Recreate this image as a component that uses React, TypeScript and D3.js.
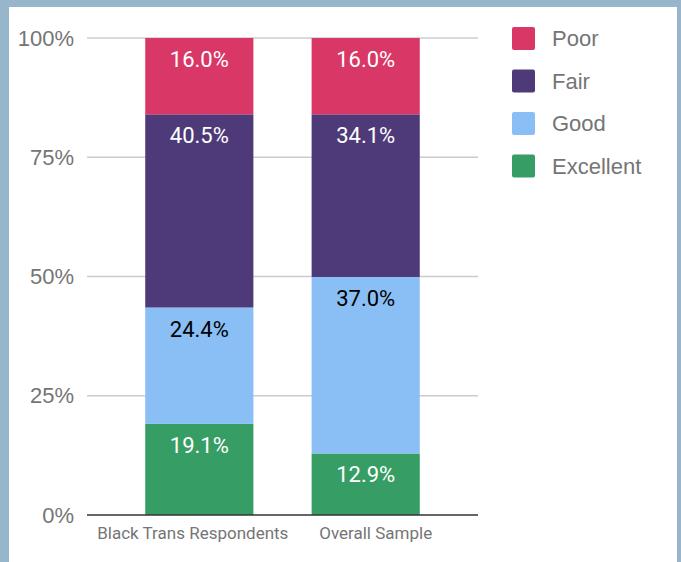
import React from "react";
import * as d3 from "d3";

const categories = ["Black Trans Respondents", "Overall Sample"];
const seriesNames = ["Excellent", "Good", "Fair", "Poor"];
const excellent = [19.1, 12.9];
const good = [24.4, 37.0];
const fair = [40.5, 34.1];
const poor = [16.0, 16.0];
const yTicks = [0, 25, 50, 75, 100];
const legendOrder = ["Poor", "Fair", "Good", "Excellent"];

const colors: Record<string, string> = {
  Poor: "#d93766",
  Fair: "#4e3a79",
  Good: "#8abff5",
  Excellent: "#369d64",
};
const labelColors: Record<string, string> = {
  Poor: "#ffffff",
  Fair: "#ffffff",
  Good: "#000000",
  Excellent: "#ffffff",
};

const W = 681;
const H = 562;

export default function App() {
  const rows = categories.map((c, i) => ({
    cat: c,
    Excellent: excellent[i],
    Good: good[i],
    Fair: fair[i],
    Poor: poor[i],
  }));
  const stack = d3.stack<any>().keys(seriesNames);
  const stacked = stack(rows);

  const x = d3.scaleBand().domain(categories).range([87, 478]).paddingInner(0.35).paddingOuter(0.35);
  const y = d3.scaleLinear().domain([0, 100]).range([515, 38]);
  const labelShift = [-6.5, 10];

  const tickFont = "'Liberation Sans', Arial, sans-serif";
  const robo = "Roboto, 'Noto Sans', sans-serif";

  return (
    <svg width={W} height={H} style={{ position: "absolute", left: 0, top: 0, display: "block" }}>
      <rect x={0} y={0} width={W} height={H} fill="#98b6cb" />
      <rect x={9} y={7} width={668} height={H - 7} fill="#ffffff" />
      {yTicks.map((t) => (
        <g key={t}>
          {t > 0 && <line x1={87} x2={478} y1={y(t)} y2={y(t)} stroke="#cccccc" strokeWidth={1.5} />}
          <text x={74} y={y(t)} dy="0.35em" textAnchor="end" fontFamily={tickFont} fontSize={22} fill="#757575">
            {t}%
          </text>
        </g>
      ))}
      {stacked.map((s) => (
        <g key={s.key}>
          {s.map((d, i) => {
            const cat = categories[i];
            const x0 = x(cat)!;
            const top = y(d[1]);
            const bot = y(d[0]);
            const v = d[1] - d[0];
            return (
              <g key={cat}>
                <rect x={x0} y={top} width={x.bandwidth()} height={bot - top} fill={colors[s.key]} />
                <text
                  x={x0 + x.bandwidth() / 2}
                  y={top + 29}
                  textAnchor="middle"
                  fontFamily={robo}
                  fontSize={22}
                  fill={labelColors[s.key]}
                >
                  {v.toFixed(1)}%
                </text>
              </g>
            );
          })}
        </g>
      ))}
      <line x1={87} x2={478} y1={y(0)} y2={y(0)} stroke="#333333" strokeWidth={1.5} />
      {categories.map((c, i) => (
        <text
          key={c}
          x={x(c)! + x.bandwidth() / 2 + labelShift[i]}
          y={539}
          textAnchor="middle"
          fontFamily={robo}
          fontSize={17}
          fill="#757575"
        >
          {c}
        </text>
      ))}
      {legendOrder.map((k, i) => (
        <g key={k} transform={`translate(512, ${27 + i * 42.5})`}>
          <rect x={0} y={0} width={23} height={23} rx={2} fill={colors[k]} />
          <text x={40} y={11.5} dy="0.35em" fontFamily={tickFont} fontSize={22} fill="#757575">
            {k}
          </text>
        </g>
      ))}
    </svg>
  );
}
